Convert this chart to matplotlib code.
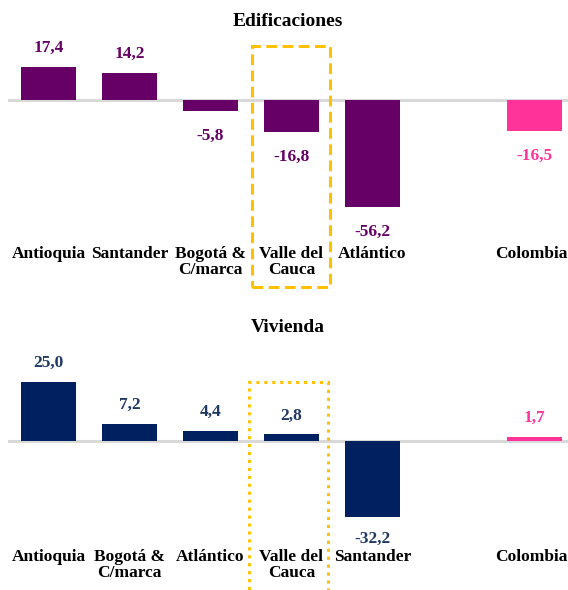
import matplotlib
matplotlib.use("Agg")
import matplotlib.pyplot as plt
from matplotlib.patches import Rectangle
from matplotlib.transforms import ScaledTranslation

# ---- data ----
edif_labels = ["Antioquia", "Santander", "Bogotá &\nC/marca", "Valle del\nCauca", "Atlántico", "", "Colombia"]
edif_values = [17.4, 14.2, -5.8, -16.8, -56.2, None, -16.5]
viv_labels = ["Antioquia", "Bogotá &\nC/marca", "Atlántico", "Valle del\nCauca", "Santander", "", "Colombia"]
viv_values = [25.0, 7.2, 4.4, 2.8, -32.2, None, 1.7]

PURPLE = "#660066"
PINK = "#FF3399"
NAVY = "#002060"
NAVY_TXT = "#1F3864"
ORANGE = "#FFC000"
GRID = "#D9D9D9"

FONT = ["Liberation Serif", "DejaVu Serif"]
plt.rcParams["font.family"] = FONT
plt.rcParams["font.weight"] = "bold"

W, H = 568, 590
fig = plt.figure(figsize=(W / 100, H / 100), dpi=100)


def px_axes(left, top, right, bottom):
    return fig.add_axes([left / W, 1 - bottom / H, (right - left) / W, (bottom - top) / H])


def fmt(v):
    return f"{v:.1f}".replace(".", ",")


def panel(ax, labels, values, color, txtcolor, ylim, title, title_y, rect, ls, neg_off):
    ax.set_xlim(-0.5, 6.414)
    ax.set_ylim(*ylim)
    xs = [i for i, v in enumerate(values) if v is not None]
    vs = [v for v in values if v is not None]
    cols = [PINK if labels[i] == "Colombia" else color for i in xs]
    ax.bar(xs, vs, width=0.675, color=cols, zorder=3)
    ax.axhline(0, color=GRID, lw=2.2, zorder=2)
    for i, v in zip(xs, vs):
        tc = PINK if labels[i] == "Colombia" else txtcolor
        off = 13.5 if v >= 0 else neg_off
        ax.annotate(fmt(v), (i, v), xytext=(0, off), textcoords="offset points",
                    ha="center", va="center", fontsize=12.5, fontweight="bold", color=tc)
    ax.set_xticks(range(len(labels)))
    ax.set_xticklabels(labels, fontsize=12.5, fontweight="bold", linespacing=0.95)
    ax.tick_params(axis="x", length=0, pad=1)
    for t in ax.get_xticklabels():
        if t.get_text() == "Colombia":
            t.set_transform(t.get_transform() + ScaledTranslation(-2 / 72, 0, fig.dpi_scale_trans))
    ax.set_yticks([])
    for s in ax.spines.values():
        s.set_visible(False)
    ax.patch.set_alpha(0)
    fig.text(0.5 * (1 + 8 / W), 1 - title_y / H, title, ha="center", va="center",
             fontsize=14, fontweight="bold", color="black")
    x0, y0, x1, y1 = rect
    r = Rectangle((x0 / W, 1 - y1 / H), (x1 - x0) / W, (y1 - y0) / H, transform=fig.transFigure,
                  fill=False, edgecolor=ORANGE, lw=2.2, linestyle=ls, clip_on=False, zorder=5)
    fig.add_artist(r)


# top panel: zero at y=100px, 1.9 px/unit
ax1 = px_axes(8, 40, 568, 245)
panel(ax1, edif_labels, edif_values, PURPLE, PURPLE,
      (-(245 - 100) / 1.9, (100 - 40) / 1.9), "Edificaciones", 21,
      (252, 46, 330, 287), (0, (3.5, 1.8)), -18.0)

# bottom panel: zero at y=441px, 2.37 px/unit
ax2 = px_axes(8, 350, 568, 548)
panel(ax2, viv_labels, viv_values, NAVY, NAVY_TXT,
      (-(548 - 441) / 2.37, (441 - 350) / 2.37), "Vivienda", 328,
      (249, 382, 328, 600), (0, (1, 1.6)), -15.5)

fig.savefig("out.png", dpi=100)
